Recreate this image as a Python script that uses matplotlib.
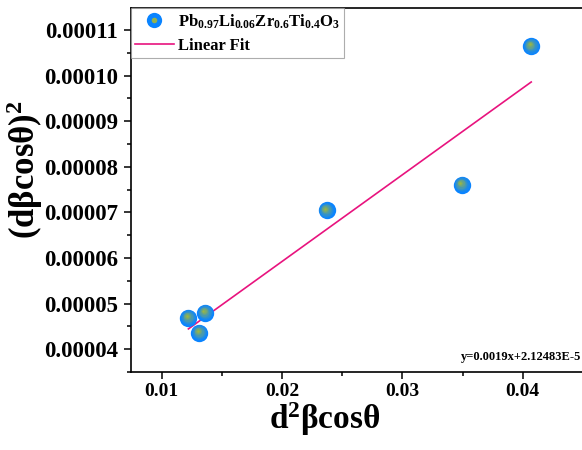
import numpy as np
import matplotlib
matplotlib.use("Agg")
import matplotlib.pyplot as plt
import matplotlib.transforms as mtransforms
from matplotlib.lines import Line2D
from matplotlib.colors import to_rgb

# data
x_vals = [0.01221, 0.01360, 0.01313, 0.02369, 0.03493, 0.04070]
y_vals = [4.693e-5, 4.802e-5, 4.365e-5, 7.047e-5, 7.610e-5, 10.65e-5]
series_label = "Pb$_{0.97}$Li$_{0.06}$Zr$_{0.6}$Ti$_{0.4}$O$_3$"
fit_label = "Linear Fit"
fit_slope = 0.0019
fit_intercept = 2.12483e-5
fit_text = "y=0.0019x+2.12483E-5"
x_ticks = [0.01, 0.02, 0.03, 0.04]
y_ticks = [0.00004, 0.00005, 0.00006, 0.00007, 0.00008, 0.00009, 0.00010, 0.00011]

plt.rcParams['font.family'] = ['Liberation Serif', 'DejaVu Serif']
plt.rcParams['font.weight'] = 'bold'
plt.rcParams['mathtext.fontset'] = 'custom'
plt.rcParams['mathtext.rm'] = 'Liberation Serif:bold'
plt.rcParams['mathtext.bf'] = 'Liberation Serif:bold'
plt.rcParams['mathtext.it'] = 'Liberation Serif:bold'

BLUE = '#0a84ff'
GLOW = '#b8c020'
PINK = '#e8137e'

fig = plt.figure(figsize=(5.82, 4.5), dpi=100)
ax = fig.add_axes([131 / 582, 78 / 450, 464 / 582, 364 / 450])

# linear fit as reported on the chart
xf = np.array([min(x_vals), max(x_vals)])
ax.plot(xf, fit_slope * xf + fit_intercept, color=PINK, lw=1.2, zorder=2)


def sphere(ax, x, y, size):
    # fake shaded ball: blue disc, then smaller discs shifted toward upper left
    ax.plot(x, y, 'o', ms=size, color=BLUE, mec='none', ls='none', zorder=3)
    c1 = np.array(to_rgb(BLUE))
    c2 = np.array(to_rgb(GLOW))
    n = 6
    for i in range(1, n + 1):
        f = i / n
        tr = mtransforms.offset_copy(ax.transData, fig=fig, x=-1.2 * f, y=1.2 * f, units='points')
        col = c1 * (1 - f) + c2 * f
        ax.plot(x, y, 'o', ms=size * (1 - 0.88 * f), color=col, mec='none', ls='none',
                alpha=0.5, transform=tr, zorder=3)


sphere(ax, x_vals, y_vals, 12.5)

ax.set_xlim(0.00744, 0.046)
ax.set_ylim(3.519e-5, 1.148e-4)
ax.set_xticks(x_ticks)
ax.set_yticks(y_ticks)
ax.set_xticks([0.015, 0.025, 0.035, 0.045], minor=True)
ax.set_yticks(np.arange(3.5e-5, 1.15e-4, 1e-5), minor=True)
ax.set_xticklabels(['%.2f' % v for v in x_ticks])
ax.set_yticklabels(['%.5f' % v for v in y_ticks])
ax.tick_params(which='major', direction='out', length=5, width=1.1)
ax.tick_params(axis='x', which='major', labelsize=14, pad=3)
ax.tick_params(axis='y', which='major', labelsize=16.5, pad=4.5)
ax.tick_params(which='minor', direction='out', length=3, width=1.1)
for s in ax.spines.values():
    s.set_linewidth(1.2)

ax.set_xlabel(r'$\mathrm{d^2βcosθ}$', fontsize=24)
ax.set_ylabel(r'$\mathrm{(dβcosθ)^2}$', fontsize=25)
ax.xaxis.set_label_coords(0.418, -0.078)
ax.yaxis.set_label_coords(-0.186, 0.555)

ax.text(0.0449, 3.7e-5, fit_text, fontsize=9, ha='right', va='bottom')

h_ball = (Line2D([], [], marker='o', ms=11, color=BLUE, mec='none', ls='none'),
          Line2D([], [], marker='o', ms=4, color=GLOW, mec='none', ls='none', alpha=0.8))
h_line = Line2D([], [], color=PINK, lw=1.2)
leg = ax.legend([h_ball, h_line], [series_label, fit_label], loc='upper left',
                bbox_to_anchor=(0, 1), borderaxespad=0, fancybox=False,
                edgecolor='#999999', fontsize=12, handlelength=2.3,
                handletextpad=0.3, borderpad=0.25, labelspacing=0.45)
leg.get_frame().set_linewidth(0.8)

fig.savefig('out.png', dpi=100)
